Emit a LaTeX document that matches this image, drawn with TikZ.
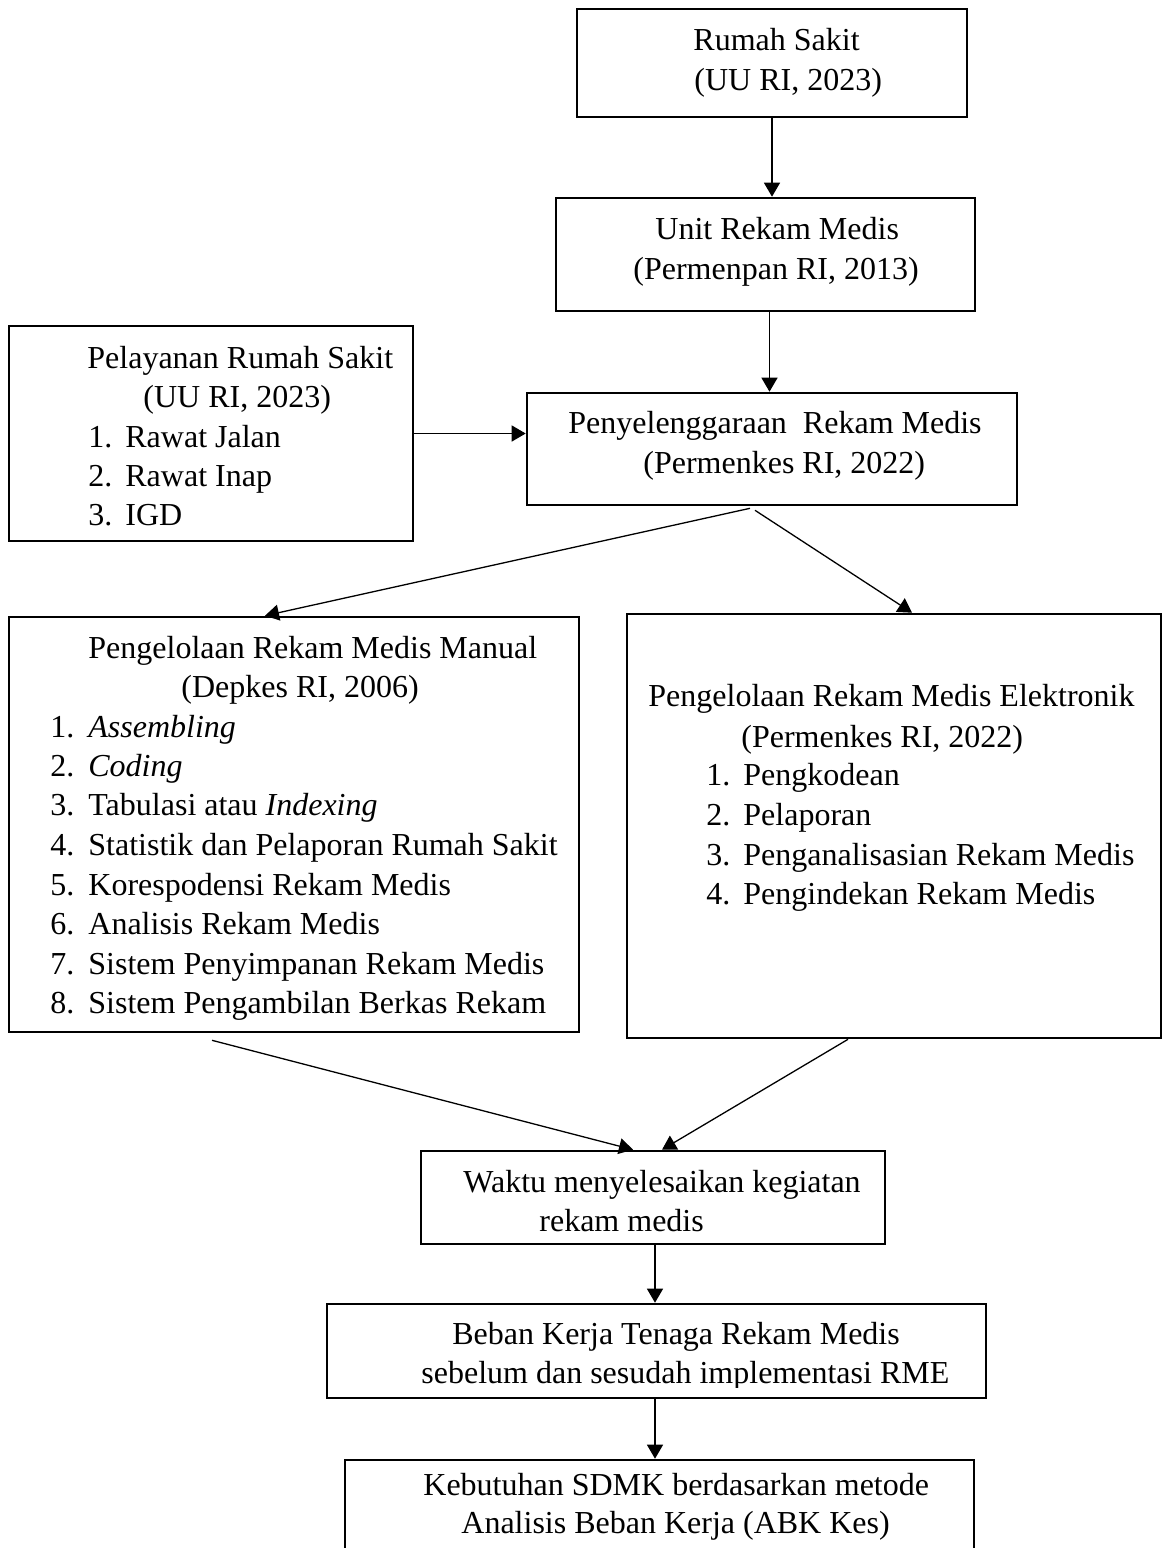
\documentclass[tikz,border=0pt]{standalone}
\usepackage{fontspec}
\setmainfont{Liberation Serif}
\usetikzlibrary{arrows.meta,fit}
\tikzset{
  box/.style={draw=black, line width=1.3pt, inner sep=0pt, rectangle},
  arr/.style={draw=black, line width=0.65pt, -{Triangle[length=7pt,width=8pt]}},
  txt/.style={anchor=base west, inner sep=0pt, font=\fontsize{16pt}{19pt}\selectfont},
}
\begin{document}
\begin{tikzpicture}[x=0.5pt,y=-0.5pt]
\clip (0,0) rectangle (1165,1548);
\useasboundingbox (0,0) rectangle (1165,1548);
\fill[white] (0,0) rectangle (1165,1548);

% boxes
\node[box, fit={(577,9) (967,117)}] (rs) {};
\node[box, fit={(556,198) (975,311)}] (unit) {};
\node[box, fit={(9,326) (413,541)}] (pel) {};
\node[box, fit={(527,393) (1017,505)}] (peny) {};
\node[box, fit={(9,617) (579,1032)}] (man) {};
\node[box, fit={(627,614) (1161,1038)}] (elek) {};
\node[box, fit={(421,1151) (885,1244)}] (waktu) {};
\node[box, fit={(327,1304) (986,1398)}] (beban) {};
\node[box, fit={(345,1460) (974,1600)}] (keb) {};

% texts
\node[txt] (rs1) at (693,50) {Rumah Sakit};
\node[txt] (rs2) at (694,90) {(UU RI, 2023)};

\node[txt] (un1) at (655,239) {Unit Rekam Medis};
\node[txt] (un2) at (633,279) {(Permenpan RI, 2013)};

\node[txt] (pl1) at (87,368) {Pelayanan Rumah Sakit};
\node[txt] (pl2) at (143,407) {(UU RI, 2023)};
\node[txt] (pl3n) at (88,447) {1.};
\node[txt] (pl3) at (125,447) {Rawat Jalan};
\node[txt] (pl4n) at (88,486) {2.};
\node[txt] (pl4) at (125,486) {Rawat Inap};
\node[txt] (pl5n) at (88,525) {3.};
\node[txt] (pl5) at (125,525) {IGD};

\node[txt] (py1) at (568,433) {Penyelenggaraan\ \ Rekam Medis};
\node[txt] (py2) at (643,473) {(Permenkes RI, 2022)};

\node[txt] (mn1) at (88,658) {Pengelolaan Rekam Medis Manual};
\node[txt] (mn2) at (181,697) {(Depkes RI, 2006)};
\node[txt] (mi1n) at (50,737) {1.};
\node[txt] (mi1) at (88,737) {\itshape Assembling};
\node[txt] (mi2n) at (50,776) {2.};
\node[txt] (mi2) at (88,776) {\itshape Coding};
\node[txt] (mi3n) at (50,815) {3.};
\node[txt] (mi3) at (88,815) {Tabulasi atau \textit{Indexing}};
\node[txt] (mi4n) at (50,855) {4.};
\node[txt] (mi4) at (88,855) {Statistik dan Pelaporan Rumah Sakit};
\node[txt] (mi5n) at (50,895) {5.};
\node[txt] (mi5) at (88,895) {Korespodensi Rekam Medis};
\node[txt] (mi6n) at (50,934) {6.};
\node[txt] (mi6) at (88,934) {Analisis Rekam Medis};
\node[txt] (mi7n) at (50,974) {7.};
\node[txt] (mi7) at (88,974) {Sistem Penyimpanan Rekam Medis};
\node[txt] (mi8n) at (50,1013) {8.};
\node[txt] (mi8) at (88,1013) {Sistem Pengambilan Berkas Rekam};

\node[txt] (el1) at (648,706) {Pengelolaan Rekam Medis Elektronik};
\node[txt] (el2) at (741,747) {(Permenkes RI, 2022)};
\node[txt] (ei1n) at (706,785) {1.};
\node[txt] (ei1) at (743,785) {Pengkodean};
\node[txt] (ei2n) at (706,825) {2.};
\node[txt] (ei2) at (743,825) {Pelaporan};
\node[txt] (ei3n) at (706,865) {3.};
\node[txt] (ei3) at (743,865) {Penganalisasian Rekam Medis};
\node[txt] (ei4n) at (706,904) {4.};
\node[txt] (ei4) at (743,904) {Pengindekan Rekam Medis};

\node[txt] (wk1) at (463,1192) {Waktu menyelesaikan kegiatan};
\node[txt] (wk2) at (539,1231) {rekam medis};

\node[txt] (bb1) at (452,1344) {Beban Kerja Tenaga Rekam Medis};
\begin{scope}
\clip (327,1304) rectangle (986,1387);
\node[txt] (bb2) at (421,1383) {sebelum dan sesudah implementasi RME};
\end{scope}

\node[txt] (kb1) at (423,1495) {Kebutuhan SDMK berdasarkan metode};
\node[txt] (kb2) at (461,1533) {Analisis Beban Kerja (ABK Kes)};

% connectors
\draw[arr] (rs.south) -- (rs.south |- unit.north);
\draw[arr] ([xshift=2pt]unit.south) -- ([xshift=2pt]unit.south |- peny.north);
\draw[arr] (pel.east) -- (peny.west |- pel.east);
\draw[arr] ([xshift=-11pt,yshift=-1pt]peny.south) -- ([xshift=-14.5pt]man.north);
\draw[arr] ([xshift=-8.5pt,yshift=-2pt]peny.south) -- ([xshift=9pt]elek.north);
\draw[arr] ([xshift=-41pt,yshift=-3.5pt]man.south) -- ([xshift=-10pt]waktu.north);
\draw[arr] ([xshift=-23pt]elek.south) -- ([xshift=4.5pt]waktu.north);
\draw[arr] ([xshift=1pt]waktu.south) -- ([xshift=1pt]waktu.south |- beban.north);
\draw[arr] ([xshift=-0.75pt]beban.south) -- ([xshift=-0.75pt]beban.south |- keb.north);
\end{tikzpicture}
\end{document}
